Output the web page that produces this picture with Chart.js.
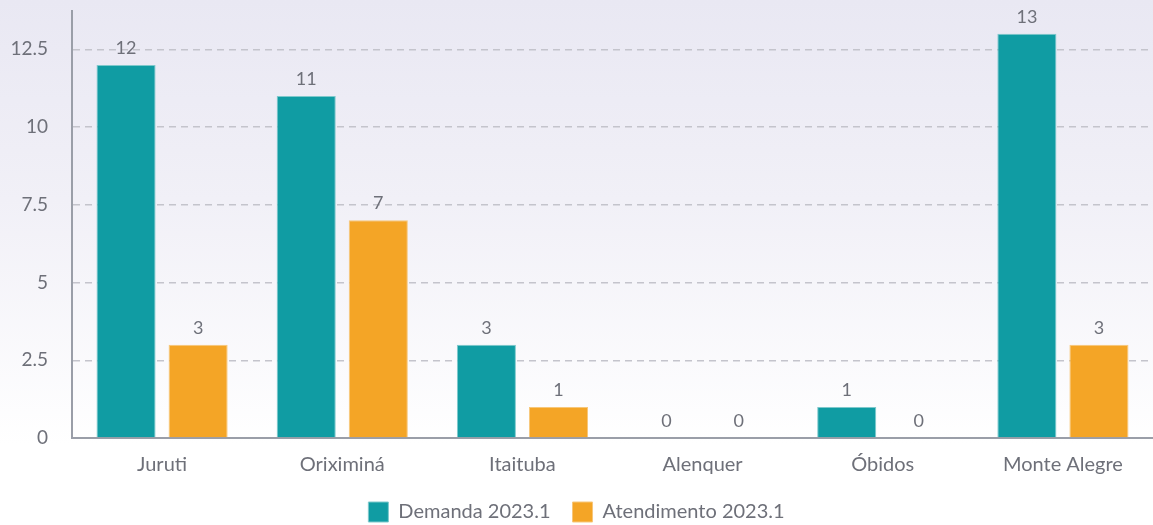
<!DOCTYPE html>
<html>
<head>
<meta charset="utf-8">
<script src="https://cdn.jsdelivr.net/npm/chart.js@4/dist/chart.umd.min.js"></script>
<style>
  html, body { margin: 0; padding: 0; }
  body {
    width: 1153px;
    height: 525px;
    overflow: hidden;
    background: linear-gradient(to bottom, #e9e8f3 0px, #f1f0f7 200px, #ffffff 445px, #ffffff 525px);
  }
  #clip { position: relative; width: 1153px; height: 525px; overflow: hidden; }
  #wrap { position: absolute; left: 0; top: -24px; width: 1153px; height: 556px; }
</style>
</head>
<body>
<div id="clip"><div id="wrap"><canvas id="chartDemanda"></canvas></div></div>
<script>
const cidades = ['Juruti', 'Oriximiná', 'Itaituba', 'Alenquer', 'Óbidos', 'Monte Alegre']
const demanda = [12, 11, 3, 0, 1, 13]
const atendimento = [3, 7, 1, 0, 0, 3]
const yTicks = [0, 2.5, 5, 7.5, 10, 12.5]

const textColor = '#6e7079'

// escreve o valor em cima de cada barra
const valueLabelsPlugin = {
  id: 'valueLabels',
  afterDatasetsDraw: (chart) => {
    const { ctx } = chart
    ctx.save()
    ctx.font = '18px Lato, sans-serif'
    ctx.fillStyle = textColor
    ctx.textAlign = 'center'
    ctx.textBaseline = 'bottom'
    chart.data.datasets.forEach((ds, i) => {
      chart.getDatasetMeta(i).data.forEach((bar, j) => {
        ctx.fillText(String(ds.data[j]), bar.x, bar.y - 8)
      })
    })
    ctx.restore()
  }
}

new Chart(document.getElementById('chartDemanda'), {
  type: 'bar',
  data: {
    labels: cidades,
    datasets: [
      {
        label: 'Demanda 2023.1',
        data: demanda,
        backgroundColor: '#109ca3',
        borderColor: '#7fc9cc',
        borderWidth: 1,
        categoryPercentage: 0.8,
        barPercentage: 0.82
      },
      {
        label: 'Atendimento 2023.1',
        data: atendimento,
        backgroundColor: '#f4a526',
        borderColor: '#f7c77a',
        borderWidth: 1,
        categoryPercentage: 0.8,
        barPercentage: 0.82
      }
    ]
  },
  options: {
    responsive: true,
    maintainAspectRatio: false,
    animation: false,
    layout: { padding: 0 },
    plugins: {
      tooltip: { enabled: false },
      legend: {
        position: 'bottom',
        labels: {
          boxWidth: 20,
          boxHeight: 20,
          padding: 22,
          color: textColor,
          font: { size: 20, family: 'Lato, sans-serif' }
        }
      }
    },
    scales: {
      x: {
        grid: { display: false, drawTicks: false },
        border: { display: true, color: '#9a9ea8', width: 2 },
        ticks: {
          color: textColor,
          padding: 15,
          font: { size: 20, family: 'Lato, sans-serif' }
        },
        afterFit: (scale) => { scale.height = 42 }
      },
      y: {
        min: 0,
        max: 13.72,
        afterBuildTicks: (scale) => {
          scale.ticks = yTicks.map(v => ({ value: v }))
        },
        grid: {
          color: '#c4c4cc',
          lineWidth: 1.5,
          drawTicks: false
        },
        border: { display: true, color: '#9a9ea8', width: 2, dash: [7, 5] },
        ticks: {
          color: textColor,
          padding: 24,
          font: { size: 19, family: 'Lato, sans-serif' }
        },
        afterFit: (scale) => { scale.width = 72 }
      }
    }
  },
  plugins: [valueLabelsPlugin]
})
</script>
</body>
</html>
